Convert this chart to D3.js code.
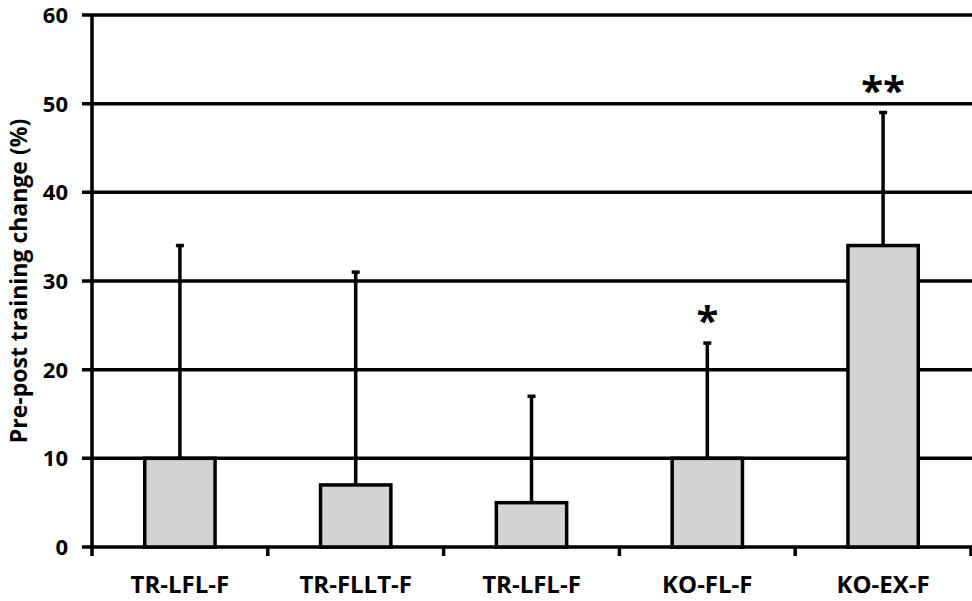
<!DOCTYPE html>
<html lang="en">
<head>
<meta charset="utf-8">
<title>Pre-post training change</title>
<style>
body { margin: 0; background: #fff; }
text { font-family: "Open Sans", sans-serif; font-weight: 700; fill: #000; }
</style>
</head>
<body>
<div id="chart"></div>
<script src="https://d3js.org/d3.v7.min.js"></script>
<script>

const categories = ["TR-LFL-F", "TR-FLLT-F", "TR-LFL-F", "KO-FL-F", "KO-EX-F"];
const values = [10, 7, 5, 10, 34];
const errorTops = [34, 31, 17, 23, 49];
const marks = ["", "", "", "*", "**"];
const yTicks = [0, 10, 20, 30, 40, 50, 60];

const width = 972,
    height = 601,
    margin = { top: 15, right: 1, bottom: 54, left: 92 };

const svg = d3.select("#chart")
  .append("svg")
    .attr("width", width)
    .attr("height", height);

const x = d3.scaleBand()
    .domain(d3.range(categories.length))
    .range([margin.left, width - margin.right])
    .paddingInner(0)
    .paddingOuter(0);

const y = d3.scaleLinear()
    .domain([0, 60])
    .range([height - margin.bottom, margin.top]);

// gridlines
svg.append("g")
  .selectAll("line")
  .data(yTicks)
  .join("line")
    .attr("x1", margin.left - 10)
    .attr("x2", width)
    .attr("y1", d => y(d))
    .attr("y2", d => y(d))
    .attr("stroke", "#000")
    .attr("stroke-width", 3.5);

// y axis line
svg.append("line")
    .attr("x1", margin.left)
    .attr("x2", margin.left)
    .attr("y1", y(60))
    .attr("y2", y(0) + 9)
    .attr("stroke", "#000")
    .attr("stroke-width", 3.5);

// category ticks
svg.append("g")
  .selectAll("line")
  .data(d3.range(1, categories.length + 1))
  .join("line")
    .attr("x1", d => x(d - 1) + x.bandwidth())
    .attr("x2", d => x(d - 1) + x.bandwidth())
    .attr("y1", y(0))
    .attr("y2", y(0) + 9)
    .attr("stroke", "#000")
    .attr("stroke-width", 3.5);

// y tick labels
svg.append("g")
  .selectAll("text")
  .data(yTicks)
  .join("text")
    .attr("x", 68)
    .attr("y", d => y(d))
    .attr("dy", "0.36em")
    .attr("text-anchor", "end")
    .style("font-size", "22px")
    .text(d => d);

const barW = x.bandwidth() * 0.4;

// error bars
const err = svg.append("g");
err.selectAll("line.stem")
  .data(values)
  .join("line")
    .attr("class", "stem")
    .attr("x1", (d, i) => x(i) + x.bandwidth() / 2)
    .attr("x2", (d, i) => x(i) + x.bandwidth() / 2)
    .attr("y1", d => y(d))
    .attr("y2", (d, i) => y(errorTops[i]))
    .attr("stroke", "#000")
    .attr("stroke-width", 3.5);
err.selectAll("line.cap")
  .data(errorTops)
  .join("line")
    .attr("class", "cap")
    .attr("x1", (d, i) => x(i) + x.bandwidth() / 2 - 4)
    .attr("x2", (d, i) => x(i) + x.bandwidth() / 2 + 4)
    .attr("y1", d => y(d))
    .attr("y2", d => y(d))
    .attr("stroke", "#000")
    .attr("stroke-width", 3.5);

// bars
svg.append("g")
  .selectAll("rect")
  .data(values)
  .join("rect")
    .attr("x", (d, i) => x(i) + (x.bandwidth() - barW) / 2)
    .attr("y", d => y(d))
    .attr("width", barW)
    .attr("height", d => y(0) - y(d))
    .attr("fill", "#d3d3d3")
    .attr("stroke", "#000")
    .attr("stroke-width", 3.5);

// significance marks
svg.append("g")
  .selectAll("text")
  .data(marks)
  .join("text")
    .attr("x", (d, i) => x(i) + x.bandwidth() / 2)
    .attr("y", (d, i) => y(errorTops[i]) - 8)
    .attr("text-anchor", "middle")
    .style("font-size", "40px")
    .text(d => d);

// x labels
svg.append("g")
  .selectAll("text")
  .data(categories)
  .join("text")
    .attr("x", (d, i) => x(i) + x.bandwidth() / 2)
    .attr("y", 593)
    .attr("text-anchor", "middle")
    .style("font-size", "24px")
    .text(d => d);

// y title
svg.append("text")
    .attr("transform", "translate(27," + y(30) + ") rotate(-90)")
    .attr("text-anchor", "middle")
    .style("font-size", "23px")
    .text("Pre-post training change (%)");

</script>
</body>
</html>
